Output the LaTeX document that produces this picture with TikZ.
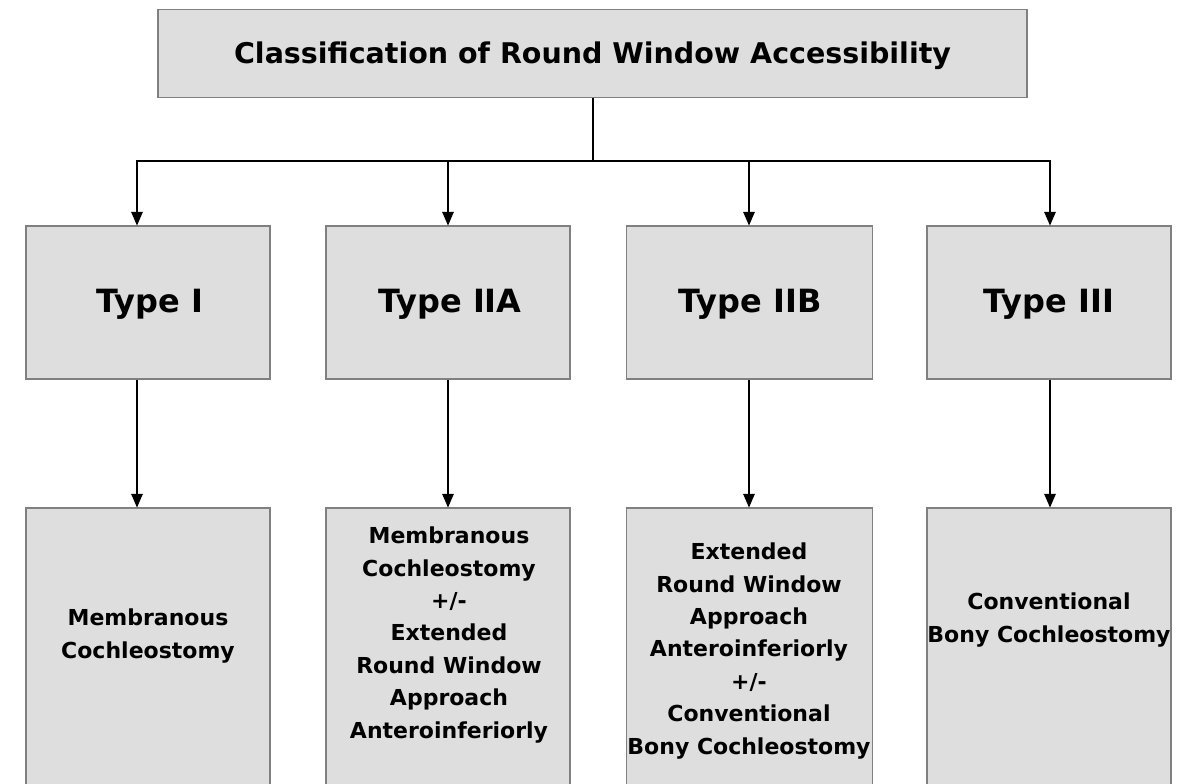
\documentclass[tikz,border=0pt]{standalone}
\usepackage{fontspec}
\setmainfont{DejaVu Sans}
\usetikzlibrary{arrows.meta}
\tikzset{
  box/.style={draw=boxline, fill=boxfill, line width=1.3pt, inner sep=0pt},
  label/.style={align=center, font=\bfseries\fontsize{22}{32.4}\selectfont, inner sep=0pt},
  typelabel/.style={font=\bfseries\fontsize{32}{36}\selectfont, inner sep=0pt},
  titlelabel/.style={font=\bfseries\fontsize{28.5}{32}\selectfont, inner sep=0pt},
  wire/.style={line width=2.8pt, draw=black},
  arr/.style={wire, -{Triangle[length=14pt,width=11pt]}, shorten >=-0.5pt},
}
\definecolor{boxfill}{HTML}{DEDEDE}
\definecolor{boxline}{HTML}{808080}
\begin{document}
\begin{tikzpicture}[x=1pt,y=-1pt]
\useasboundingbox (0,0) rectangle (1192,784);
\clip (0,0) rectangle (1192,784);
\fill[white] (0,0) rectangle (1192,784);

% header
\node[box, minimum width=869pt, minimum height=88pt] (top) at (592.5,53.5) {};
\node[titlelabel] (toptext) at (592.5,56) {Classification of Round Window Accessibility};

% second row: types
\node[box, minimum width=244pt, minimum height=153pt] (t1) at (148,302.5) {};
\node[box, minimum width=244pt, minimum height=153pt] (t2) at (448,302.5) {};
\node[box, minimum width=246pt, minimum height=153pt] (t3) at (749.5,302.5) {};
\node[box, minimum width=244pt, minimum height=153pt] (t4) at (1049,302.5) {};
\node[typelabel] (t1text) at (150,304) {Type I};
\node[typelabel] (t2text) at (450,304) {Type IIA};
\node[typelabel] (t3text) at (750,304) {Type IIB};
\node[typelabel] (t4text) at (1049,304) {Type III};

% third row: approaches
\node[box, minimum width=244pt, minimum height=300pt] (b1) at (148,658) {};
\node[box, minimum width=244pt, minimum height=300pt] (b2) at (448,658) {};
\node[box, minimum width=246pt, minimum height=300pt] (b3) at (749.5,658) {};
\node[box, minimum width=244pt, minimum height=300pt] (b4) at (1049,658) {};
\node[label] (b1text) at (148,636) {Membranous\\Cochleostomy};
\node[label] (b2text) at (449,635) {Membranous\\Cochleostomy\\+/-\\Extended\\Round Window\\Approach\\Anteroinferiorly};
\node[label] (b3text) at (749,651) {Extended\\Round Window\\Approach\\Anteroinferiorly\\+/-\\Conventional\\Bony Cochleostomy};
\node[label] (b4text) at (1049,620) {Conventional\\Bony Cochleostomy};

% connector columns
\coordinate (hub) at (593,161);
\coordinate (c1) at (137,161);
\coordinate (c2) at (448,161);
\coordinate (c3) at (749,161);
\coordinate (c4) at (1050,161);

\draw[wire] (top.south -| hub) -- (hub);
\draw[wire, line cap=rect] (c1) -- (c4);
\draw[arr] (c1) -- (c1 |- t1.north);
\draw[arr] (c2) -- (c2 |- t2.north);
\draw[arr] (c3) -- (c3 |- t3.north);
\draw[arr] (c4) -- (c4 |- t4.north);

\draw[arr] (t1.south -| c1) -- (b1.north -| c1);
\draw[arr] (t2.south -| c2) -- (b2.north -| c2);
\draw[arr] (t3.south -| c3) -- (b3.north -| c3);
\draw[arr] (t4.south -| c4) -- (b4.north -| c4);
\end{tikzpicture}
\end{document}
